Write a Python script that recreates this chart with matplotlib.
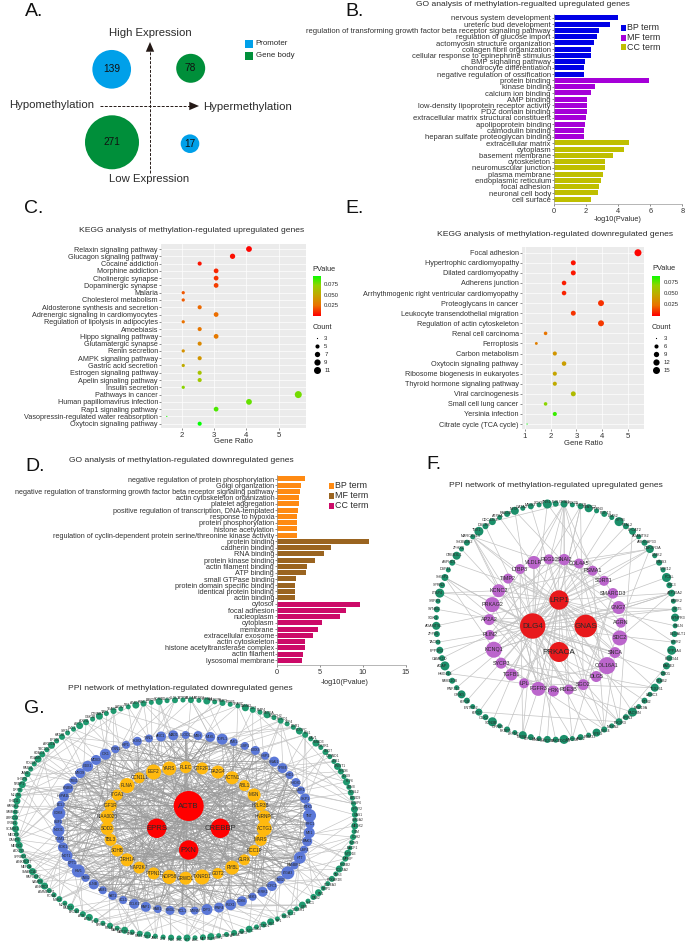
import numpy as np
import matplotlib
matplotlib.use("Agg")
import matplotlib.pyplot as plt
from matplotlib.collections import LineCollection
from matplotlib.colors import LinearSegmentedColormap
from matplotlib.patches import Circle, Rectangle

plt.rcParams['font.family'] = ['Liberation Sans', 'DejaVu Sans']

# ---------- data ----------
quad_counts = [139, 78, 271, 17]
quad_kinds = ['Promoter', 'Gene body', 'Gene body', 'Promoter']

b_terms = ['nervous system development', 'ureteric bud development',
           'regulation of transforming growth factor beta receptor signaling pathway',
           'regulation of glucose import', 'actomyosin structure organization', 'collagen fibril organization',
           'cellular response to epinephrine stimulus', 'BMP signaling pathway', 'chondrocyte differentiation',
           'negative regulation of ossification', 'protein binding', 'kinase binding', 'calcium ion binding',
           'AMP binding', 'low-density lipoprotein receptor activity', 'PDZ domain binding',
           'extracellular matrix structural constituent', 'apolipoprotein binding', 'calmodulin binding',
           'heparan sulfate proteoglycan binding', 'extracellular matrix', 'cytoplasm', 'basement membrane',
           'cytoskeleton', 'neuromuscular junction', 'plasma membrane', 'endoplasmic reticulum', 'focal adhesion',
           'neuronal cell body', 'cell surface']
b_values = [3.98, 3.52, 2.83, 2.67, 2.48, 2.30, 2.30, 1.96, 1.90, 1.86,
            5.92, 2.56, 2.30, 2.08, 2.08, 2.04, 1.98, 1.92, 1.88, 1.86,
            4.69, 4.38, 3.69, 3.19, 3.15, 3.06, 2.90, 2.81, 2.77, 2.33]
d_terms = ['negative regulation of protein phosphorylation', 'Golgi organization',
           'negative regulation of transforming growth factor beta receptor signaling pathway',
           'actin cytoskeleton organization', 'platelet aggregation',
           'positive regulation of transcription, DNA-templated', 'response to hypoxia', 'protein phosphorylation',
           'histone acetylation', 'regulation of cyclin-dependent protein serine/threonine kinase activity',
           'protein binding', 'cadherin binding', 'RNA binding', 'protein kinase binding', 'actin filament binding',
           'ATP binding', 'small GTPase binding', 'protein domain specific binding', 'identical protein binding',
           'actin binding', 'cytosol', 'focal adhesion', 'nucleoplasm', 'cytoplasm', 'membrane',
           'extracellular exosome', 'actin cytoskeleton', 'histone acetyltransferase complex', 'actin filament',
           'lysosomal membrane']
d_values = [3.23, 2.73, 2.69, 2.49, 2.49, 2.45, 2.26, 2.26, 2.26, 2.26,
            10.67, 6.23, 5.45, 4.36, 3.50, 3.31, 2.18, 2.10, 2.06, 2.06,
            9.70, 8.06, 7.28, 5.22, 4.75, 4.20, 3.27, 3.23, 3.00, 2.88]
term_groups = ['BP term', 'MF term', 'CC term']

c_terms = ['Relaxin signaling pathway', 'Glucagon signaling pathway', 'Cocaine addiction', 'Morphine addiction',
           'Cholinergic synapse', 'Dopaminergic synapse', 'Malaria', 'Cholesterol metabolism',
           'Aldosterone synthesis and secretion', 'Adrenergic signaling in cardiomyocytes',
           'Regulation of lipolysis in adipocytes', 'Amoebiasis', 'Hippo signaling pathway', 'Glutamatergic synapse',
           'Renin secretion', 'AMPK signaling pathway', 'Gastric acid secretion', 'Estrogen signaling pathway',
           'Apelin signaling pathway', 'Insulin secretion', 'Pathways in cancer', 'Human papillomavirus infection',
           'Rap1 signaling pathway', 'Vasopressin-regulated water reabsorption', 'Oxytocin signaling pathway']
c_ratio = [4.08, 3.57, 2.55, 3.06, 3.06, 3.06, 2.04, 2.04, 2.55, 3.06, 2.04, 2.55, 3.06, 2.55, 2.04, 2.55, 2.04,
           2.55, 2.55, 2.04, 5.61, 4.08, 3.06, 1.53, 2.55]
c_count = [8, 7, 5, 6, 6, 6, 4, 4, 5, 6, 4, 5, 6, 5, 4, 5, 4, 5, 5, 4, 11, 8, 6, 3, 5]
c_p = [0.001, 0.003, 0.004, 0.008, 0.010, 0.013, 0.018, 0.019, 0.022, 0.023, 0.024, 0.026, 0.027, 0.034, 0.038,
       0.040, 0.050, 0.062, 0.065, 0.072, 0.076, 0.078, 0.082, 0.090, 0.094]
e_terms = ['Focal adhesion', 'Hypertrophic cardiomyopathy', 'Dilated cardiomyopathy', 'Adherens junction',
           'Arrhythmogenic right ventricular cardiomyopathy', 'Proteoglycans in cancer',
           'Leukocyte transendothelial migration', 'Regulation of actin cytoskeleton', 'Renal cell carcinoma',
           'Ferroptosis', 'Carbon metabolism', 'Oxytocin signaling pathway', 'Ribosome biogenesis in eukaryotes',
           'Thyroid hormone signaling pathway', 'Viral carcinogenesis', 'Small cell lung cancer', 'Yersinia infection',
           'Citrate cycle (TCA cycle)']
e_ratio = [5.40, 2.88, 2.88, 2.52, 2.52, 3.96, 2.88, 3.96, 1.80, 1.44, 2.16, 2.52, 2.16, 2.16, 2.88, 1.80, 2.16, 1.08]
e_count = [15, 8, 8, 7, 7, 11, 8, 11, 5, 4, 6, 7, 6, 6, 8, 5, 6, 3]
e_p = [0.001, 0.004, 0.005, 0.006, 0.007, 0.010, 0.011, 0.012, 0.025, 0.030, 0.040, 0.044, 0.047, 0.050, 0.058,
       0.072, 0.085, 0.094]

f_core = ['DLG4', 'GNAS', 'LRP1', 'PRKACA']
f_core_size = [12.7, 11.3, 9.7, 10.0]
f_mid = ['SNAI2', 'COL4A5', 'PSMA1', 'SORT1', 'SMARCD3', 'GNG7', 'AGRN', 'SDC2', 'SNCA', 'COL16A1', 'DLG5', 'SGO2',
         'PDE3B', 'HRK', 'FGFR3', 'LPL', 'TGFB1', 'SYCP3', 'KCNQ1', 'PLIN2', 'AP2A2', 'PRKAG2', 'KCNC2', 'TIMP2',
         'LTBP3', 'VLDLR', 'PEG10']
f_mid_size = [5.7, 5, 5, 5, 5.3, 6.5, 5, 7.5, 5.5, 8.5, 5.5, 5.5, 5, 5.5, 7, 5, 6, 5.5, 8, 5, 5.5, 7.5, 6.5, 5, 5, 6.5, 5]
f_outer = ['GRIA1', 'SNX29', 'TTC7B', 'NFATC2', 'PTPN3', 'FGF13', 'LIMS2', 'SPTB', 'PTAL2', 'LPCAT2', 'ADAMTS2',
           'ARHGAP33', 'CNKSR3A', 'LIMK2', 'RIMS3', 'PRR12', 'PCBL', 'RIC3', 'ATP10A2', 'PARK2', 'SYT5', 'SYNPR3',
           'RELN', 'B4GALT1', 'VIPR2', 'PPP1A4', 'FBXO44', 'BACE2', 'DRD1', 'STAB2', 'TEX261', 'LAMC3', 'RTN2',
           'FAM19A', 'PACSIN', 'LPIN3', 'PIK3R3', 'NRXN2', 'EML4', 'SPEG', 'RBM33', 'ANK2', 'MYO5B', 'DOCK3', 'PAK3',
           'SH3D19', 'GNAO1', 'KIF13A', 'TIMM8', 'LRFN2', 'FKBP5', 'GPR63', 'SCN3B', 'CUX2', 'KIF17', 'ENTPD2',
           'KIF1B', 'GRIK5', 'RNF212', 'FAM110B', 'HMG2L1', 'ACAP', 'CAMK1D', 'PPP1R3', 'TAOK1', 'ZFP36', 'ADAMTSL',
           'SGK1', 'SYNM2', 'SRPX1', 'LTBP4', 'SPRN2', 'SHISP2', 'DSP11', 'ASPHD1', 'CREB3L1', 'ZFHX2', 'SH3BGR2',
           'MARCKSL1', 'TBX1', 'DSCR8', 'CDC42EP', 'ATP8A', 'RAB3B', 'NFIX', 'GATA2', 'MEIS3', 'SOX8', 'TNS1', 'ELN']
f_outer_size = [3.5, 2.5, 3, 4, 2.5, 3, 2.5, 4.5, 3]

g_core = ['ACTB', 'EPRS', 'CREBBP', 'PXN']
g_core_size = [15, 9.7, 9.7, 9.7]
g_mid = ['PLEC', 'GTF2F1', 'PA2G4', 'ACTN1', 'ABL1', 'MSN', 'H2LR3B', 'HNRNPC', 'ACTG1', 'MARS', 'RCC1P', 'GLRX',
         'RYBL', 'GOT2', 'TXNRD1', 'GRWD1', 'NOP58', 'PTPN11', 'MAP2K7', 'CIRH1A', 'SDHB', 'TBL3', 'SOD2', 'KIAA0020',
         'IGF1R', 'ITGA1', 'FLNA', 'CCN1L1', 'EEF2', 'YARS']
g_mid_size = [6, 6, 6.5, 6.5, 5.5, 6.5, 5.5, 6.5, 7.5, 6, 5.5, 5.5, 7, 5.5, 7.5, 6.5, 7, 6, 6, 6.5, 6, 6, 6.5, 7,
              6, 5.5, 7.5, 5.5, 7.5, 7]
g_blue = ['MLKL', 'TOPL1', 'FMI1', 'IGSF1', 'DDX3', 'HSP1', 'SNAI1', 'TPM4', 'SHD1', 'SHOX1', 'UBR1', 'SKP1', 'RTK1',
          'TNT', 'RFC1', 'ME1', 'BAK1', 'USP4', 'HTT', 'RANBP1', 'ITGA3', 'GNB2L', 'HCFC1', 'LRRK1', 'NEK3', 'CDK6',
          'RUX1', 'RNF4', 'DIP3', 'MYNN', 'RCL1', 'KSGL', 'RAB1', 'RAP1', 'DCLK1', 'SCL1', 'FAT1', 'LAM1', 'FLNB',
          'GNB2', 'HIV1', 'CPT1', 'NOT1', 'PDK1', 'PGM1', 'NOD1', 'SBF1', 'CDK8', 'BCL7', 'HSPA1L', 'KNBM', 'GRB1',
          'MYO9', 'CBX1', 'MDB3', 'ICK1', 'ITSN1', 'HIP1', 'SKIV2', 'TSN1', 'ARC1', 'MAD1', 'PLOD1', 'MBH']
g_blue_size = [5, 5.5, 4, 4, 4.5, 4, 5, 5, 4, 4.5, 4, 5, 4, 6.5, 4.5, 5.5, 5, 4, 6, 4, 6.5, 4, 5, 5, 4, 5, 5.5]
g_outer = ['ALCAM', 'KCNK3', 'EPHA4', 'RAB27B', 'TIMP3', 'ITGB5', 'SPARC', 'LAMA2', 'GLI3', 'BMP4', 'WNT5A', 'NOTCH2',
           'FOXO1', 'TCF4', 'EGR1', 'PDGFC', 'IRS1', 'CAV1', 'SMAD3', 'PIK3R1', 'LMO7', 'CTNND1', 'ZEB1', 'TWIST1',
           'RHOB', 'SOX9', 'KLF6', 'JUNB', 'FOSL2', 'NEDD9', 'DUSP6', 'SPRY2', 'GAS1', 'HMGA2', 'MEOX2', 'VIM',
           'CDH2', 'MYH9', 'MACF1', 'MYO1E', 'MPRIP', 'ERBB2', 'COL5A2', 'TNS3', 'PRKAR1B', 'COL6A3', 'NRP1', 'FN1',
           'DAB2', 'SHC1', 'LIFR', 'TGFBR1', 'BCL2', 'PTEN', 'NF1', 'RB1', 'CCND1', 'CDK4', 'MYC', 'STAT3', 'HIF1A',
           'VEGFA', 'FGF2', 'EGFR', 'MET', 'AXL', 'KIT', 'SRC', 'FYN', 'LYN', 'JAK1', 'TYK2', 'RAF1', 'BRAF', 'MAP3K1',
           'MAPK1', 'RELA', 'NFKB1', 'TP53', 'ATM', 'ATR', 'BRCA1', 'RAD51', 'MLH1', 'MSH2', 'PCNA', 'AMMECR1', 'ANKRD1',
           'VAMP8', 'RAPGEF2', 'SMARCA2', 'MEF2A', 'ANKRD17', 'SPRED1', 'ADCY3', 'MEOX1', 'CASP8', 'MECP2', 'SCARB1',
           'CRIM1', 'LRRC32', 'SAMHD1', 'KANSL1', 'CHD11', 'MLLT6', 'DPP9', 'NRBP1', 'SH3PX', 'JAM2', 'RAB31', 'PDLIM7',
           'PGAM5', 'HDAC4', 'TBC1D1', 'ARID1A', 'EP300', 'KAT2B', 'SIRT1', 'DVL2', 'APC', 'AXIN1', 'GSK3B', 'CTNNB1',
           'YAP1', 'TEAD1', 'LATS2', 'NF2', 'AMOT', 'WWC1', 'PARD3', 'SCRIB', 'DLG1', 'LLGL2', 'ATP5B']
g_outer_size = [3, 2.5, 3.5, 2.5, 3, 2.5, 2.5, 3.5]

# ---------- styles ----------
W, H = 685, 946
fig = plt.figure(figsize=(W / 100, H / 100), dpi=100)
TXT = '#2b2b2b'
cmap = LinearSegmentedColormap.from_list('rg', ['#ff0000', '#eb7100', '#c5a500', '#96d200', '#00ff00'])
PMAX = 0.094


def px_axes(l, t, r, b, **kw):
    return fig.add_axes([l / W, 1 - b / H, (r - l) / W, (b - t) / H], **kw)


ov = px_axes(0, 0, W, H, zorder=5)
ov.set_xlim(0, W)
ov.set_ylim(H, 0)
ov.axis('off')
ov.patch.set_alpha(0)


def label(x, y, s, size, ha='center', color=TXT, **kw):
    ov.text(x, y, s, fontsize=size, ha=ha, va='center', color=color, **kw)


for s, x, y in [('A.', 25, 11), ('B.', 345, 11), ('C.', 24, 208), ('E.', 345, 208),
                ('D.', 25, 466), ('F.', 426, 464), ('G.', 24, 708)]:
    label(x, y, s, 14, ha='left', color='#111111')

label(523, 5, 'GO analysis of methylation-regualted upregulated genes', 6.1)
label(192, 230, 'KEGG analysis of methylation-regulated upregulated genes', 6.1)
label(555, 234, 'KEGG analysis of methylation-regulated downregulated genes', 6.1)
label(181, 460, 'GO analysis of methylation-regulated downregulated genes', 6.1)
label(556, 485, 'PPI network of methylation-regulated upregulated genes', 6.1)
label(180, 688, 'PPI network of methylation-regulated downregulated genes', 6.1)

# ---------- panel A ----------
kind_color = {'Promoter': '#00a0e9', 'Gene body': '#008f3a'}
centers = [(111.7, 69.3), (190.7, 68.3), (112, 142.3), (190, 143.7)]
for (cx, cy), n, kind in zip(centers, quad_counts, quad_kinds):
    r = max(9.3, 1.64 * np.sqrt(n))
    ov.add_patch(Circle((cx, cy), r, color=kind_color[kind], lw=0, zorder=2))
    label(cx, cy, str(n), 7.3, zorder=3, color='#111111')
ov.plot([150, 150], [173, 50], color='#231815', lw=0.7, ls=(0, (3, 1.5)), zorder=3)
ov.plot([100, 190], [106, 106], color='#231815', lw=0.7, ls=(0, (3, 1.5)), zorder=3)
head = dict(arrowstyle='-|>,head_length=0.7,head_width=0.3', color='#231815', lw=0, mutation_scale=10,
            shrinkA=0, shrinkB=0)
ov.annotate('', xy=(150, 42), xytext=(150, 56), zorder=3, arrowprops=head)
ov.annotate('', xy=(199, 106), xytext=(183, 106), zorder=3, arrowprops=head)
label(52, 105.3, 'Hypomethylation', 8.2)
label(248, 107, 'Hypermethylation', 8.2)
label(150, 33.5, 'High Expression', 8.2)
label(149.5, 179.5, 'Low Expression', 8.2)
for y, kind in zip([43.7, 55.7], ['Promoter', 'Gene body']):
    ov.add_patch(Rectangle((245, y - 4), 8, 8, color=kind_color[kind], lw=0))
    label(255.7, y, kind, 5.7, ha='left')


# ---------- bars ----------
def bar_panel(box, terms, values, colors, xmax, ticks, size):
    ax = px_axes(*box)
    y = np.arange(len(terms))
    ax.barh(y, values, height=0.8, color=[colors[i // 10] for i in y], lw=0)
    ax.set_xlim(0, xmax)
    ax.set_xticks(ticks)
    ax.set_ylim(29.76, -0.64)
    ax.set_yticks(y)
    ax.set_yticklabels(terms)
    ax.tick_params(axis='y', labelsize=size, length=1.5, width=0.4, pad=0.7, colors='#333333')
    ax.tick_params(axis='x', labelsize=5.3, length=1.5, width=0.4, pad=1.5, colors='#333333')
    for s in ('top', 'right'):
        ax.spines[s].set_visible(False)
    for s in ('left', 'bottom'):
        ax.spines[s].set_linewidth(0.5)
        ax.spines[s].set_color('#999999')
    return ax


b_colors = ['#0000e6', '#a500d8', '#bfbf00']
d_colors = ['#ff8a12', '#9a6420', '#cc0a68']
bar_panel((554, 14, 682.3, 204), b_terms, b_values, b_colors, 8, [0, 2, 4, 6, 8], 5.5)
bar_panel((277.3, 475, 405.7, 665), d_terms, d_values, d_colors, 15, [0, 5, 10, 15], 5.25)
label(618, 219, '-log10(Pvalue)', 5.3)
label(345, 682, '-log10(Pvalue)', 5.3)
for lx, tops, cols in [(621, [28, 37.7, 47.5], b_colors), (329, [485.7, 495.7, 505.7], d_colors)]:
    for y, g, c in zip(tops, term_groups, cols):
        ov.add_patch(Rectangle((lx, y - 3), 5.5, 6, color=c, lw=0))
        label(lx + 6.3, y, g, 6.4, ha='left')


# ---------- dot plots ----------
def dot_d(counts):
    c = np.asarray(counts, float)
    return 1.2 + 5.8 * np.sqrt((c - 3) / (c.max() - 3))


def dot_panel(box, terms, ratio, count, pvals, xlim, ticks, ylim):
    ax = px_axes(*box)
    ax.set_facecolor('#ebebeb')
    y = np.arange(len(terms))
    ax.scatter(ratio, y, s=(dot_d(count) * 0.72) ** 2, c=pvals, cmap=cmap, vmin=0, vmax=PMAX, lw=0, zorder=3)
    ax.set_xlim(*xlim)
    ax.set_ylim(*ylim)
    ax.set_xticks(ticks)
    ax.set_yticks(y)
    ax.set_yticklabels(terms)
    ax.grid(color='white', lw=0.5, zorder=1)
    ax.set_axisbelow(True)
    ax.tick_params(axis='y', labelsize=5.25, length=1.5, width=0.4, pad=0.7, colors='#333333')
    ax.tick_params(axis='x', labelsize=5.6, length=1.5, width=0.4, pad=1.2, colors='#333333')
    for s in ax.spines.values():
        s.set_visible(False)
    return ax


dot_panel((161, 244, 305.7, 428), c_terms, c_ratio, c_count, c_p, (1.35, 5.84), [2, 3, 4, 5], (24.59, -0.69))
dot_panel((521.7, 246.7, 644, 429.3), e_terms, e_ratio, e_count, e_p, (0.87, 5.635), [1, 2, 3, 4, 5], (17.52, -0.6))
label(233, 441, 'Gene Ratio', 5.5)
label(583, 443.5, 'Gene Ratio', 5.5)


def dot_legend(x0, title_y, bar_top, ys, levels, tick_ys, maxc):
    label(x0, title_y, 'PValue', 5.3, ha='left')
    cb = px_axes(x0, bar_top, x0 + 8, bar_top + 40, zorder=4)
    cb.imshow(np.linspace(1, 0, 64)[:, None], aspect='auto', cmap=cmap, vmin=0, vmax=1)
    cb.axis('off')
    for ty, t in zip(tick_ys, ['0.075', '0.050', '0.025']):
        label(x0 + 11.5, ty, t, 4.3, ha='left')
    label(x0, 327, 'Count', 5.3, ha='left')
    for yy, lv in zip(ys, levels):
        d = 1.2 + 5.8 * np.sqrt((lv - levels[0]) / (maxc - levels[0]))
        ov.scatter([x0 + 4], [yy], s=(d * 0.72) ** 2, color='black', lw=0)
        label(x0 + 11.5, yy, str(lv), 4.3, ha='left')


dot_legend(312.7, 269, 275.7, [338, 346.3, 354, 362, 370], [3, 5, 7, 9, 11], [284, 295, 305], 11)
dot_legend(652, 268.7, 275.7, [338, 346.3, 354, 362, 370], [3, 6, 9, 12, 15], [282.7, 293.7, 304.7], 15)


# ---------- networks ----------
def ring(n, cx, cy, rx, ry, start=-90.0):
    a = np.deg2rad(start + 360.0 * np.arange(n) / n)
    return np.c_[cx + rx * np.cos(a), cy + ry * np.sin(a)]


def nodes(xy, names, sizes, color, fs, offset=None, z=3):
    for i, ((x, y), nm) in enumerate(zip(xy, names)):
        r = sizes[i % len(sizes)]
        ov.add_patch(Circle((x, y), r, color=color, lw=0, zorder=z))
        tx, ty = (x, y) if offset is None else (offset[i][0], offset[i][1])
        ov.text(tx, ty, nm, fontsize=fs, ha='center', va='center', color='#2a2a2a', zorder=z + 1)


def wire(pairs, pts, color, lw, z=1):
    segs = [(pts[a], pts[b]) for a, b in pairs]
    ov.add_collection(LineCollection(segs, colors=color, linewidths=lw, zorder=z))


def hop(i, a, b, n):
    """Deterministic, non-periodic index hop used to wire the network panels."""
    return (a * i * i + b * i) % n


# panel F
f_core_xy = np.array([(532.7, 626), (585.7, 626), (559, 600), (559, 652)])
f_mid_xy = ring(len(f_mid), 555, 625, 66, 66, start=-82)
f_out_xy = ring(len(f_outer), 555.7, 621.7, 119.5, 118, start=-86)
f_pts = np.vstack([f_core_xy, f_mid_xy, f_out_xy])
nc, nm, no = len(f_core), len(f_mid), len(f_outer)
pairs = []
for i in range(nm):
    pairs.append((hop(i, 3, 1, nc), nc + i))
    pairs.append((nc + i, nc + nm + hop(i, 7, 5, no)))
    pairs.append((nc + i, nc + hop(i, 5, 3, nm)))
    if i % 2 == 0:
        pairs.append((nc + i, nc + nm + hop(i, 11, 23, no)))
for i in range(0, no, 2):
    pairs.append((hop(i, 1, 3, nc), nc + nm + i))
for i in range(0, no, 9):
    pairs.append((nc + nm + i, nc + nm + hop(i, 13, 17, no)))
pairs += [(0, 1), (0, 2), (0, 3), (1, 2), (1, 3), (2, 3)]
wire(pairs, f_pts, '#c4c4c4', 0.5)
f_lab = ring(no, 555.7, 621.7, 122.5, 119.5, start=-86)
nodes(f_out_xy, f_outer, f_outer_size, '#1b8f6a', 2.7, offset=f_lab)
nodes(f_mid_xy, f_mid, f_mid_size, '#bb66cc', 3.9)
nodes(f_core_xy, f_core, f_core_size, '#e8191c', 5.8)

# panel G
g_core_xy = np.array([(188.7, 806), (156.7, 828.3), (220.3, 828.3), (188.7, 850)])
g_mid_xy = ring(len(g_mid), 185.7, 822.7, 79, 55.5, start=-90)
g_blue_xy = ring(len(g_blue), 184, 823, 126, 88, start=-78)
g_out_xy = ring(len(g_outer), 185, 819, 170, 119, start=-88)
g_pts = np.vstack([g_core_xy, g_mid_xy, g_blue_xy, g_out_xy])
nc, nm, nb, no = len(g_core), len(g_mid), len(g_blue), len(g_outer)
mid0, blue0, out0 = nc, nc + nm, nc + nm + nb
dense, light = [], []
for i in range(nm):
    dense.append((hop(i, 3, 1, nc), mid0 + i))
    dense.append((hop(i, 5, 2, nc), mid0 + i))
    dense.append((mid0 + i, mid0 + hop(i, 7, 3, nm)))
    dense.append((mid0 + i, mid0 + hop(i, 11, 13, nm)))
    dense.append((mid0 + i, blue0 + hop(i, 5, 7, nb)))
    dense.append((mid0 + i, blue0 + hop(i, 13, 19, nb)))
    dense.append((mid0 + i, blue0 + hop(i, 17, 29, nb)))
for i in range(nb):
    dense.append((blue0 + i, blue0 + hop(i, 7, 11, nb)))
    dense.append((blue0 + i, blue0 + hop(i, 3, 23, nb)))
    dense.append((hop(i, 3, 2, nc), blue0 + i))
    dense.append((blue0 + i, mid0 + hop(i, 3, 7, nm)))
    light.append((blue0 + i, out0 + hop(i, 9, 5, no)))
for i in range(no):
    if i % 2 == 0:
        light.append((mid0 + hop(i, 5, 7, nm), out0 + i))
    if i % 3 == 0:
        light.append((out0 + i, out0 + hop(i, 11, 41, no)))
    if i % 4 == 0:
        light.append((blue0 + hop(i, 7, 3, nb), out0 + i))
wire(light, g_pts, '#c2c2c2', 0.45)
wire(dense, g_pts, '#9a9a9a', 0.35, z=1.5)
g_lab = ring(no, 185, 819, 173, 121, start=-88)
nodes(g_out_xy, g_outer, g_outer_size, '#1f9a70', 2.4, offset=g_lab)
nodes(g_blue_xy, g_blue, g_blue_size, '#5b78d8', 2.6)
nodes(g_mid_xy, g_mid, g_mid_size, '#ffb90f', 3.3)
nodes(g_core_xy, g_core, g_core_size, '#ff0000', 5.6)

fig.savefig('out.png', dpi=100)
